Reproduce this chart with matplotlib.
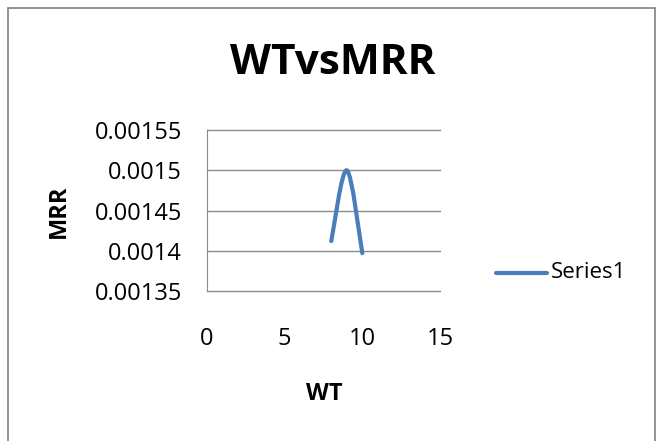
import matplotlib
matplotlib.use("Agg")
import matplotlib.pyplot as plt
from matplotlib.path import Path
from matplotlib.patches import PathPatch, Rectangle
from matplotlib.lines import Line2D

wt = [8, 9, 10]
mrr = [0.001412, 0.0015, 0.001397]
x_ticks = [0, 5, 10, 15]
y_ticks = [0.00135, 0.0014, 0.00145, 0.0015, 0.00155]
y_tick_labels = ["0.00135", "0.0014", "0.00145", "0.0015", "0.00155"]
series_name = "Series1"

plt.rcParams['font.family'] = ["Open Sans", "DejaVu Sans"]

color = "#4a7ebb"
fig = plt.figure(figsize=(6.58, 4.41), dpi=100)
fig.patches.append(Rectangle((7.5/658, -0.01), (655-7.5)/658, 1 - 7.5/441 + 0.01,
                             transform=fig.transFigure, fill=False,
                             edgecolor="#808080", linewidth=1.2))

ax = fig.add_axes([207/658, 1-291/441, (440-207)/658, (291-130)/441])
ax.set_xlim(0, 15)
ax.set_ylim(0.00135, 0.00155)
ax.set_xticks(x_ticks)
ax.set_yticks(y_ticks)
ax.set_yticklabels(y_tick_labels)
ax.tick_params(length=0, labelsize=17, colors="black")
ax.tick_params(axis='x', pad=26)
ax.tick_params(axis='y', pad=18)
ax.grid(axis='y', color="#8c8c8c", linewidth=1)
for gl in ax.get_ygridlines():
    gl.set_clip_on(False)
for s in ["top", "right", "bottom"]:
    ax.spines[s].set_visible(False)
ax.spines["left"].set_color("#8c8c8c")
ax.set_axisbelow(True)

# smoothed (Bezier) line through the data points, like Excel
pts = list(zip(wt, mrr))
n = len(pts)
verts = [pts[0]]
codes = [Path.MOVETO]
for i in range(n - 1):
    p0 = pts[i - 1] if i > 0 else pts[i]
    p1 = pts[i]
    p2 = pts[i + 1]
    p3 = pts[i + 2] if i + 2 < n else pts[i + 1]
    c1 = (p1[0] + (p2[0] - p0[0]) / 6, p1[1] + (p2[1] - p0[1]) / 6)
    c2 = (p2[0] - (p3[0] - p1[0]) / 6, p2[1] - (p3[1] - p1[1]) / 6)
    verts += [c1, c2, p2]
    codes += [Path.CURVE4] * 3
ax.add_patch(PathPatch(Path(verts, codes), facecolor="none", edgecolor=color,
                       linewidth=3.0, capstyle="round", joinstyle="round"))

fig.text(333/658, 1-64/441, "WTvsMRR", ha="center", va="center",
         fontsize=30.5, fontweight="bold")
fig.text(59/658, 1-211/441, "MRR", ha="center", va="center", rotation=90,
         fontsize=17, fontweight="bold")
fig.text(324/658, 1-394/441, "WT", ha="center", va="center",
         fontsize=17, fontweight="bold")

fig.lines.append(Line2D([496/658, 547/658], [1-273/441, 1-273/441],
                        transform=fig.transFigure, color=color, linewidth=3.0,
                        solid_capstyle="round"))
fig.text(551/658, 1-273/441, series_name, ha="left", va="center", fontsize=16)

fig.savefig("out.png", dpi=100)
